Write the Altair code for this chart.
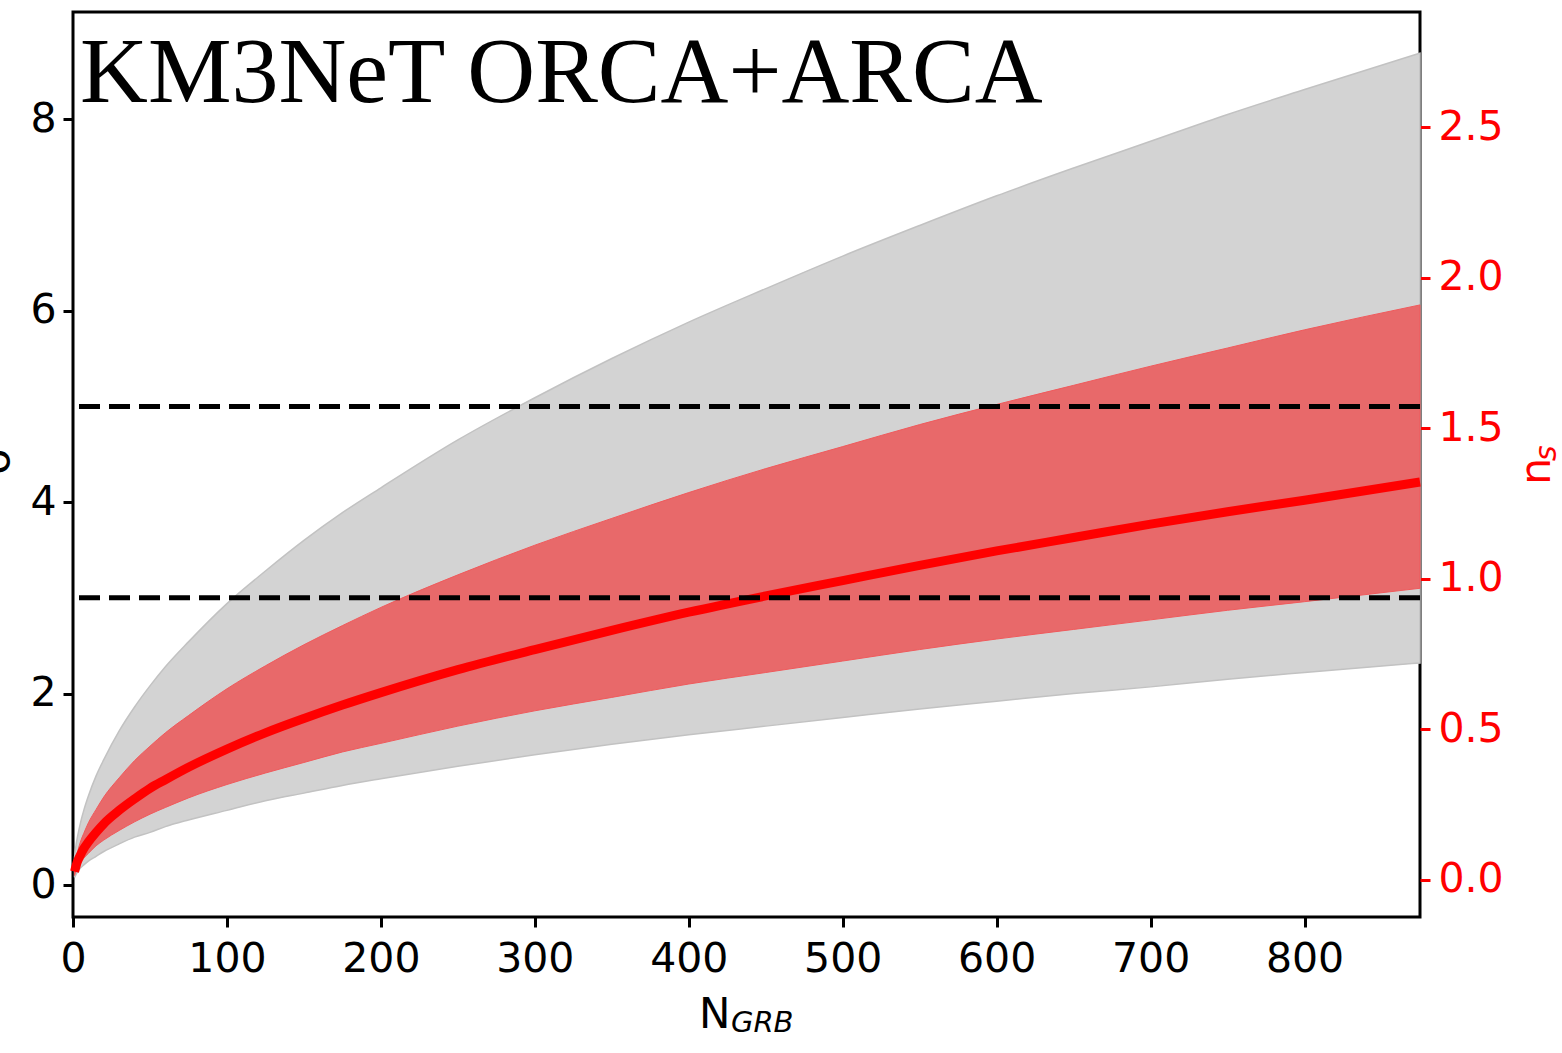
import altair as alt
import pandas as pd

# Number of GRBs
N = [1, 2, 3, 5, 7, 10, 15, 20, 30, 40, 50, 60, 75, 100, 125, 150, 175, 200, 250,
     300, 350, 400, 450, 500, 550, 600, 650, 700, 750, 800, 875]
# significance (sigma), median curve
center = [0.14, 0.20, 0.25, 0.32, 0.38, 0.45, 0.55, 0.64, 0.78, 0.90, 1.01, 1.10, 1.23,
          1.42, 1.59, 1.74, 1.88, 2.01, 2.25, 2.46, 2.66, 2.85, 3.02, 3.18, 3.34, 3.49,
          3.63, 3.77, 3.90, 4.02, 4.21]
# 1-sigma band (red)
red_hi = [0.20, 0.29, 0.35, 0.46, 0.54, 0.65, 0.79, 0.92, 1.12, 1.30, 1.45, 1.59, 1.77,
          2.05, 2.29, 2.51, 2.71, 2.90, 3.24, 3.55, 3.83, 4.10, 4.35, 4.58, 4.81, 5.02,
          5.22, 5.42, 5.61, 5.80, 6.06]
red_lo = [0.10, 0.15, 0.18, 0.23, 0.28, 0.33, 0.41, 0.47, 0.57, 0.66, 0.74, 0.81, 0.91,
          1.05, 1.17, 1.28, 1.39, 1.48, 1.66, 1.82, 1.96, 2.10, 2.22, 2.34, 2.46, 2.57,
          2.67, 2.77, 2.87, 2.96, 3.10]
# 2-sigma band (grey)
gray_hi = [0.29, 0.42, 0.51, 0.66, 0.78, 0.93, 1.14, 1.31, 1.61, 1.86, 2.08, 2.28, 2.54,
           2.94, 3.28, 3.60, 3.89, 4.15, 4.65, 5.09, 5.50, 5.88, 6.23, 6.57, 6.89, 7.20,
           7.49, 7.77, 8.05, 8.31, 8.69]
gray_lo = [0.08, 0.11, 0.14, 0.18, 0.21, 0.25, 0.30, 0.35, 0.43, 0.50, 0.55, 0.61, 0.68,
           0.78, 0.88, 0.96, 1.04, 1.11, 1.24, 1.36, 1.47, 1.57, 1.66, 1.75, 1.84, 1.92,
           2.00, 2.07, 2.15, 2.22, 2.32]

sigma_lines = [3, 5]
x_ticks = [0, 100, 200, 300, 400, 500, 600, 700, 800]
y_ticks = [0, 2, 4, 6, 8]
ns_ticks = [0.0, 0.5, 1.0, 1.5, 2.0, 2.5]

df = pd.DataFrame({"N": N, "center": center, "red_hi": red_hi, "red_lo": red_lo,
                   "gray_hi": gray_hi, "gray_lo": gray_lo})

xs = alt.Scale(domain=[0, 875], nice=False, zero=False)
ys = alt.Scale(domain=[-0.334, 9.12], nice=False, zero=False)
rs = alt.Scale(domain=[-0.123, 2.882], nice=False, zero=False)

xaxis = alt.Axis(values=x_ticks, title=None, labelFontSize=41, labelFont="DejaVu Sans",
                 tickSize=10, tickWidth=3, tickColor="black", labelColor="black",
                 domain=False, grid=False, labelPadding=12, format="d",
                 labelFlush=False, labelOverlap=False)
yaxis = alt.Axis(values=y_ticks, title=None, labelFontSize=41, labelFont="DejaVu Sans",
                 tickSize=10, tickWidth=3, tickColor="black", labelColor="black",
                 domain=False, grid=False, labelPadding=7, format="d",
                 labelFlush=False, labelOverlap=False)
raxis = alt.Axis(orient="right", values=ns_ticks, title=None, format=".1f",
                 labelFontSize=41, labelFont="DejaVu Sans", tickSize=10, tickWidth=3,
                 tickColor="red", labelColor="red", domain=False, grid=False,
                 labelPadding=8, labelFlush=False, labelOverlap=False)

X = alt.X("N:Q", scale=xs, axis=xaxis)

gray = alt.Chart(df).mark_area(color="#d3d3d3", stroke="#c2c2c2", strokeWidth=1.5,
                               interpolate="monotone").encode(
    x=X, y=alt.Y("gray_hi:Q", scale=ys, axis=yaxis), y2="gray_lo:Q")
redband = alt.Chart(df).mark_area(color="#e8696a", stroke="#f05a5c", strokeWidth=1,
                                  interpolate="monotone").encode(
    x=X, y=alt.Y("red_hi:Q", scale=ys, axis=yaxis), y2="red_lo:Q")
line = alt.Chart(df).mark_line(color="#ff0000", strokeWidth=9,
                               interpolate="monotone").encode(
    x=X, y=alt.Y("center:Q", scale=ys, axis=yaxis))
rules = alt.Chart(pd.DataFrame({"sig": sigma_lines})).mark_rule(
    color="black", strokeWidth=5, strokeDash=[21, 9]).encode(
    y=alt.Y("sig:Q", scale=ys, axis=yaxis))

one = pd.DataFrame({"a": [0]})
title = alt.Chart(one).mark_text(text="KM3NeT ORCA+ARCA", font="Liberation Serif",
                                 fontSize=94, align="left", baseline="alphabetic",
                                 color="black").encode(x=alt.value(7), y=alt.value(90))
xt1 = alt.Chart(one).mark_text(text="N", font="DejaVu Sans", fontSize=42, align="left",
                               baseline="alphabetic", color="black").encode(
    x=alt.value(626), y=alt.value(1016))
xt2 = alt.Chart(one).mark_text(text="GRB", font="DejaVu Sans", fontStyle="italic",
                               fontSize=29, align="left", baseline="alphabetic",
                               color="black").encode(x=alt.value(658), y=alt.value(1020))
rt1 = alt.Chart(one).mark_text(text="n", font="DejaVu Sans", fontSize=43, align="left",
                               baseline="alphabetic", angle=270, color="red").encode(
    x=alt.value(1477), y=alt.value(473))
rt2 = alt.Chart(one).mark_text(text="s", font="DejaVu Sans", fontStyle="italic",
                               fontSize=30, align="left", baseline="alphabetic",
                               angle=270, color="red").encode(
    x=alt.value(1483), y=alt.value(449))
lt = alt.Chart(one).mark_text(text="σ", font="DejaVu Sans", fontSize=43, align="center",
                              baseline="alphabetic", angle=270, color="black").encode(
    x=alt.value(-64), y=alt.value(449))

left = alt.layer(gray, redband, line, rules, title, xt1, xt2, rt1, rt2, lt)

right = alt.Chart(pd.DataFrame({"ns": ns_ticks})).mark_point(opacity=0).encode(
    x=alt.X("ns:Q", scale=alt.Scale(domain=[0, 2.5]), axis=None),
    y=alt.Y("ns:Q", scale=rs, axis=raxis))

chart = alt.layer(left, right).resolve_scale(y="independent", x="independent").properties(
    width=1347, height=905,
    padding={"left": 73, "top": 12, "right": 142, "bottom": 136},
    autosize="none",
).configure_view(stroke="black", strokeWidth=3)

chart.save("out.html", embed_options={"renderer": "svg", "actions": False})
